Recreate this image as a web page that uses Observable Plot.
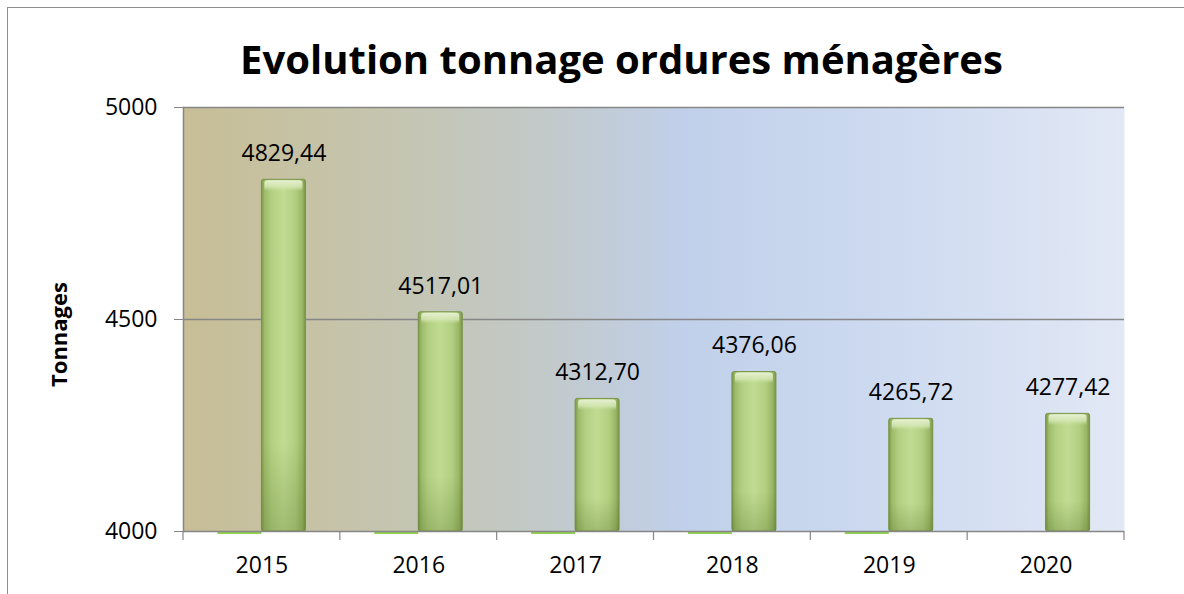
<!DOCTYPE html>
<html><head><meta charset="utf-8">
<script src="https://cdn.jsdelivr.net/npm/d3@7"></script>
<script src="https://cdn.jsdelivr.net/npm/@observablehq/plot@0.6"></script>
<style>
html,body{margin:0;padding:0;background:#fff;overflow:hidden;width:1184px;height:594px}
#wrap{position:relative;width:1184px;height:594px;overflow:hidden}
#border{position:absolute;left:7px;top:7px;width:1200px;height:620px;border:1.5px solid #8e8e8e;box-sizing:border-box}
#title{position:absolute;left:0;width:1243px;top:39px;text-align:center;font-family:"Open Sans";font-weight:bold;font-size:40px;line-height:1;color:#000;white-space:nowrap}
#chart{position:absolute;left:0;top:0}
</style></head><body>
<div id="wrap"><div id="border"></div><div id="chart"></div><div id="title">Evolution tonnage ordures ménagères</div></div>
<script>
// ---- data ----
const years = ["2015", "2016", "2017", "2018", "2019", "2020"];
const tonnages = [4829.44, 4517.01, 4312.70, 4376.06, 4265.72, 4277.42];
const hiddenSeries = [0, 0, 0, 0, 0, null];
const yDomain = [4000, 5000];
const yTicks = [4000, 4500, 5000];
const gridTicks = [4500, 5000];
const yLabel = "Tonnages";

const data = years.map((year, i) => ({year, value: tonnages[i], other: hiddenSeries[i]}));

// ---- layout ----
const W = 1184, H = 594;
const mL = 183, mR = 60, mT = 107, mB = 63;
const step = (W - mL - mR) / years.length;
const barW = 44;
const axisGray = "#868686";
const fmt = v => d3.format(".2f")(v).replace(".", ",");

const defs = () => {
  const d = d3.create("svg:defs");
  const lin = (id, stops, vertical) => {
    const g = d.append("linearGradient").attr("id", id)
      .attr("x1", 0).attr("y1", 0).attr("x2", vertical ? 0 : 1).attr("y2", vertical ? 1 : 0);
    for (const [o, c, a] of stops) g.append("stop").attr("offset", o).attr("stop-color", c).attr("stop-opacity", a == null ? 1 : a);
  };
  lin("bg", [[0, "#c7be96"], [0.2, "#c5c4ad"], [0.38, "#c2c9c8"], [0.53, "#c1d0ea"], [0.75, "#cddaf0"], [1, "#e2e8f5"]]);
  lin("barH", [[0, "#7b9748"], [0.07, "#9cba69"], [0.22, "#b2cf81"], [0.5, "#c1dc92"], [0.78, "#b1ce80"], [0.93, "#98b564"], [1, "#789445"]]);
  lin("barShade", [[0, "#4f6d22", 0], [0.75, "#4f6d22", 0], [1, "#4f6d22", 0.28]], true);
  lin("cap", [[0, "#e6f0d2", 1], [0.6, "#d6e8b6", 0.8], [1, "#c8df9c", 0]], true);
  return d.node();
};

const bandEdgeTicks = (index, scales, values, dims) => {
  const x = scales.x;
  const bw = x.bandwidth ? x.bandwidth() : step;
  const y0 = dims.height - dims.marginBottom;
  const edges = years.map(d => x(d)).concat([x(years[years.length - 1]) + bw]);
  const g = d3.create("svg:g").attr("stroke", axisGray).attr("stroke-width", 1.2);
  for (const e of edges) g.append("line").attr("x1", e).attr("x2", e).attr("y1", y0).attr("y2", y0 + 9);
  return g.node();
};

const barInset = {insetLeft: step / 2, insetRight: step / 2 - barW};
const capInset = {insetLeft: step / 2 + 3, insetRight: step / 2 - barW + 3};

const chart = Plot.plot({
  width: W, height: H,
  marginLeft: mL, marginRight: mR, marginTop: mT, marginBottom: mB,
  style: {fontFamily: "Open Sans", fontSize: "23px", background: "transparent", color: "#000", overflow: "visible"},
  x: {domain: years, padding: 0, round: false},
  y: {domain: yDomain},
  marks: [
    defs,
    Plot.frame({fill: "url(#bg)", stroke: null}),
    Plot.gridY(gridTicks, {stroke: axisGray, strokeOpacity: 1, strokeWidth: 1.5}),
    Plot.barY(data, {x: "year", y1: () => yDomain[0], y2: "value", fill: "url(#barH)", stroke: "#7a9448", strokeWidth: 1, rx: 2, ...barInset}),
    Plot.barY(data, {x: "year", y1: () => yDomain[0], y2: "value", fill: "url(#barShade)", ...barInset}),
    Plot.barY(data, {x: "year", y1: "value", y2: "value", insetTop: 1, insetBottom: -12, fill: "url(#cap)", rx: 3, ...capInset}),
    Plot.tickY(data.filter(d => d.other != null), {x: "year", y: d => Math.max(yDomain[0], d.other), stroke: "#92d050", strokeWidth: 2, dy: 1.5, insetLeft: step / 2 - barW, insetRight: step / 2}),
    Plot.ruleY([yDomain[0]], {stroke: axisGray, strokeWidth: 1.5}),
    Plot.frame({anchor: "left", stroke: axisGray, strokeWidth: 1.5}),
    bandEdgeTicks,
    Plot.axisY(yTicks, {tickSize: 9, tickPadding: 17, tickFormat: d => String(d), stroke: axisGray, fill: "#000", fontSize: 23, label: null}),
    Plot.axisX({tickSize: 0, tickPadding: 25, fill: "#000", fontSize: 23, label: null}),
    Plot.text(data, {x: "year", y: "value", text: d => fmt(d.value), dx: barW / 2, dy: -26, fontSize: 23, fill: "#000"}),
    Plot.text([yLabel], {frameAnchor: "left", textAnchor: "middle", rotate: -90, dx: -124, dy: 15, fontSize: 22, fontWeight: "bold", fill: "#000"})
  ]
});
document.getElementById("chart").append(chart);
</script>
</body></html>
